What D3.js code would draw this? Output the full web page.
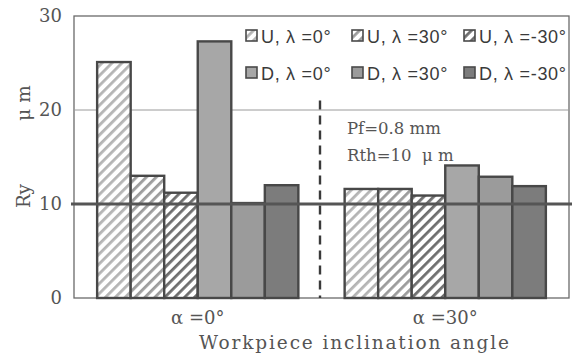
<!DOCTYPE html>
<html>
<head>
<meta charset="utf-8">
<script src="https://cdn.jsdelivr.net/npm/d3@7"></script>
<style>
  html, body { margin: 0; padding: 0; background: #fff; }
  svg { display: block; }
</style>
</head>
<body>
<svg id="chart" width="578" height="355"></svg>
<script>
// Ry roughness per workpiece inclination angle, six tool/feed conditions
const categories = ["α =0°", "α =30°"];
const seriesNames = ["U, λ =0°", "U, λ =30°", "U, λ =-30°", "D, λ =0°", "D, λ =30°", "D, λ =-30°"];
const uLam0 = [25.1, 11.6];
const uLam30 = [13.0, 11.6];
const uLamM30 = [11.2, 10.9];
const dLam0 = [27.3, 14.1];
const dLam30 = [10.1, 12.9];
const dLamM30 = [12.0, 11.9];
const yTicks = [0, 10, 20, 30];
const rthValue = 10;
const notes = ["Pf=0.8 mm", "Rth=10  μ m"];

const seriesValues = [uLam0, uLam30, uLamM30, dLam0, dLam30, dLamM30];

const W = 578, H = 355;
const margin = { top: 16, right: 9, bottom: 57, left: 74 };
const svg = d3.select("#chart");
const SERIF = "DejaVu Serif, Liberation Serif, serif";
const TEXT = "#555";

const x0 = d3.scaleBand().domain(categories)
  .range([margin.left, W - margin.right]).paddingInner(0).paddingOuter(0);
const x1 = d3.scaleBand().domain(d3.range(seriesNames.length))
  .range([0, x0.bandwidth()]).paddingInner(0).paddingOuter(0.69);
const y = d3.scaleLinear().domain([0, 30]).range([H - margin.bottom, margin.top]);

// fills: hatched for U, stippled greys for D
const defs = svg.append("defs");
const hatchColors = ["#b4b4b4", "#9c9c9c", "#6e6e6e"];
hatchColors.forEach((c, i) => {
  const p = defs.append("pattern")
    .attr("id", "hatch" + i)
    .attr("patternUnits", "userSpaceOnUse")
    .attr("width", 7).attr("height", 7)
    .attr("patternTransform", "rotate(45)");
  p.append("rect").attr("width", 7).attr("height", 7).attr("fill", "#fff");
  p.append("rect").attr("x", 0).attr("width", 2.8).attr("height", 7).attr("fill", c);
});
const fills = ["url(#hatch0)", "url(#hatch1)", "url(#hatch2)", "#a7a7a7", "#9b9b9b", "#7c7c7c"];

const plot = svg.append("g");

// frame
plot.append("rect")
  .attr("x", margin.left).attr("y", margin.top)
  .attr("width", W - margin.left - margin.right)
  .attr("height", H - margin.top - margin.bottom)
  .attr("fill", "none").attr("stroke", "#6a6a6a").attr("stroke-width", 1.3);

// gridline at 20
plot.selectAll(".grid").data(yTicks.filter(t => t > 0 && t < 30 && t !== rthValue))
  .join("line")
  .attr("x1", margin.left).attr("x2", W - margin.right)
  .attr("y1", d => y(d)).attr("y2", d => y(d))
  .attr("stroke", "#9a9a9a").attr("stroke-width", 1);

// legend
const legend = svg.append("g");
const colX = [246, 352, 464];
const rowY = [36, 73];
seriesNames.forEach((name, i) => {
  const col = i % 3, row = Math.floor(i / 3);
  const g = legend.append("g").attr("transform", `translate(${colX[col]},${rowY[row]})`);
  g.append("rect").attr("x", 0).attr("y", -6).attr("width", 11).attr("height", 11)
    .attr("fill", fills[i]).attr("stroke", "#4a4a4a").attr("stroke-width", 1.6);
  g.append("text").attr("x", 15).attr("y", 6.5)
    .attr("font-family", "Liberation Sans, Arial, sans-serif")
    .attr("font-size", 18).attr("letter-spacing", 0.7).attr("fill", "#3a3a3a")
    .text(name);
});

// bars
const barGroups = plot.selectAll(".grp").data(categories).join("g")
  .attr("transform", d => `translate(${x0(d)},0)`);
barGroups.selectAll("rect")
  .data((d, gi) => seriesValues.map((vals, si) => ({ si, v: vals[gi] })))
  .join("rect")
  .attr("x", d => x1(d.si))
  .attr("width", x1.bandwidth())
  .attr("y", d => y(d.v))
  .attr("height", d => y(0) - y(d.v))
  .attr("fill", d => fills[d.si])
  .attr("stroke", "#484848").attr("stroke-width", 2.4);

// Rth threshold line
plot.append("line")
  .attr("x1", margin.left - 3).attr("x2", W - margin.right + 3)
  .attr("y1", y(rthValue)).attr("y2", y(rthValue))
  .attr("stroke", "#555").attr("stroke-width", 3);

// dashed separator between the two angles
plot.append("line")
  .attr("x1", x0("α =30°")).attr("x2", x0("α =30°"))
  .attr("transform", "translate(-1.5,0)")
  .attr("y1", y(21)).attr("y2", y(0))
  .attr("stroke", "#3a3a3a").attr("stroke-width", 2.4)
  .attr("stroke-dasharray", "9,6");

// condition notes
notes.forEach((t, i) => {
  svg.append("text")
    .attr("x", 347).attr("y", 134 + i * 27)
    .attr("font-family", SERIF)
    .attr("font-size", 16.5).attr("fill", TEXT)
    .style("white-space", "pre")
    .text(t);
});

// y axis
const yAxis = d3.axisLeft(y).tickValues(yTicks).tickSize(0).tickPadding(12);
const ya = svg.append("g").attr("transform", `translate(${margin.left},0)`).call(yAxis);
ya.select(".domain").remove();
ya.selectAll("text")
  .attr("font-family", SERIF)
  .attr("font-size", 18).attr("fill", TEXT);

// x axis labels
const xAxis = d3.axisBottom(x0).tickSize(0).tickPadding(13);
const xa = svg.append("g").attr("transform", `translate(0,${y(0)})`).call(xAxis);
xa.select(".domain").remove();
xa.selectAll("text")
  .attr("font-family", SERIF)
  .attr("font-size", 18).attr("fill", TEXT);

// axis titles
svg.append("text")
  .attr("transform", "translate(30,103) rotate(-90)")
  .attr("text-anchor", "middle")
  .attr("font-family", SERIF)
  .attr("font-size", 18.5).attr("fill", TEXT)
  .text("μ m");
svg.append("text")
  .attr("transform", "translate(30,196) rotate(-90)")
  .attr("text-anchor", "middle")
  .attr("font-family", SERIF)
  .attr("font-size", 18.5).attr("fill", TEXT)
  .text("Ry");
svg.append("text")
  .attr("x", 354).attr("y", 349)
  .attr("text-anchor", "middle")
  .attr("textLength", 310).attr("lengthAdjust", "spacing")
  .attr("font-family", SERIF)
  .attr("font-size", 18.5).attr("fill", TEXT)
  .text("Workpiece inclination angle");
</script>
</body>
</html>
